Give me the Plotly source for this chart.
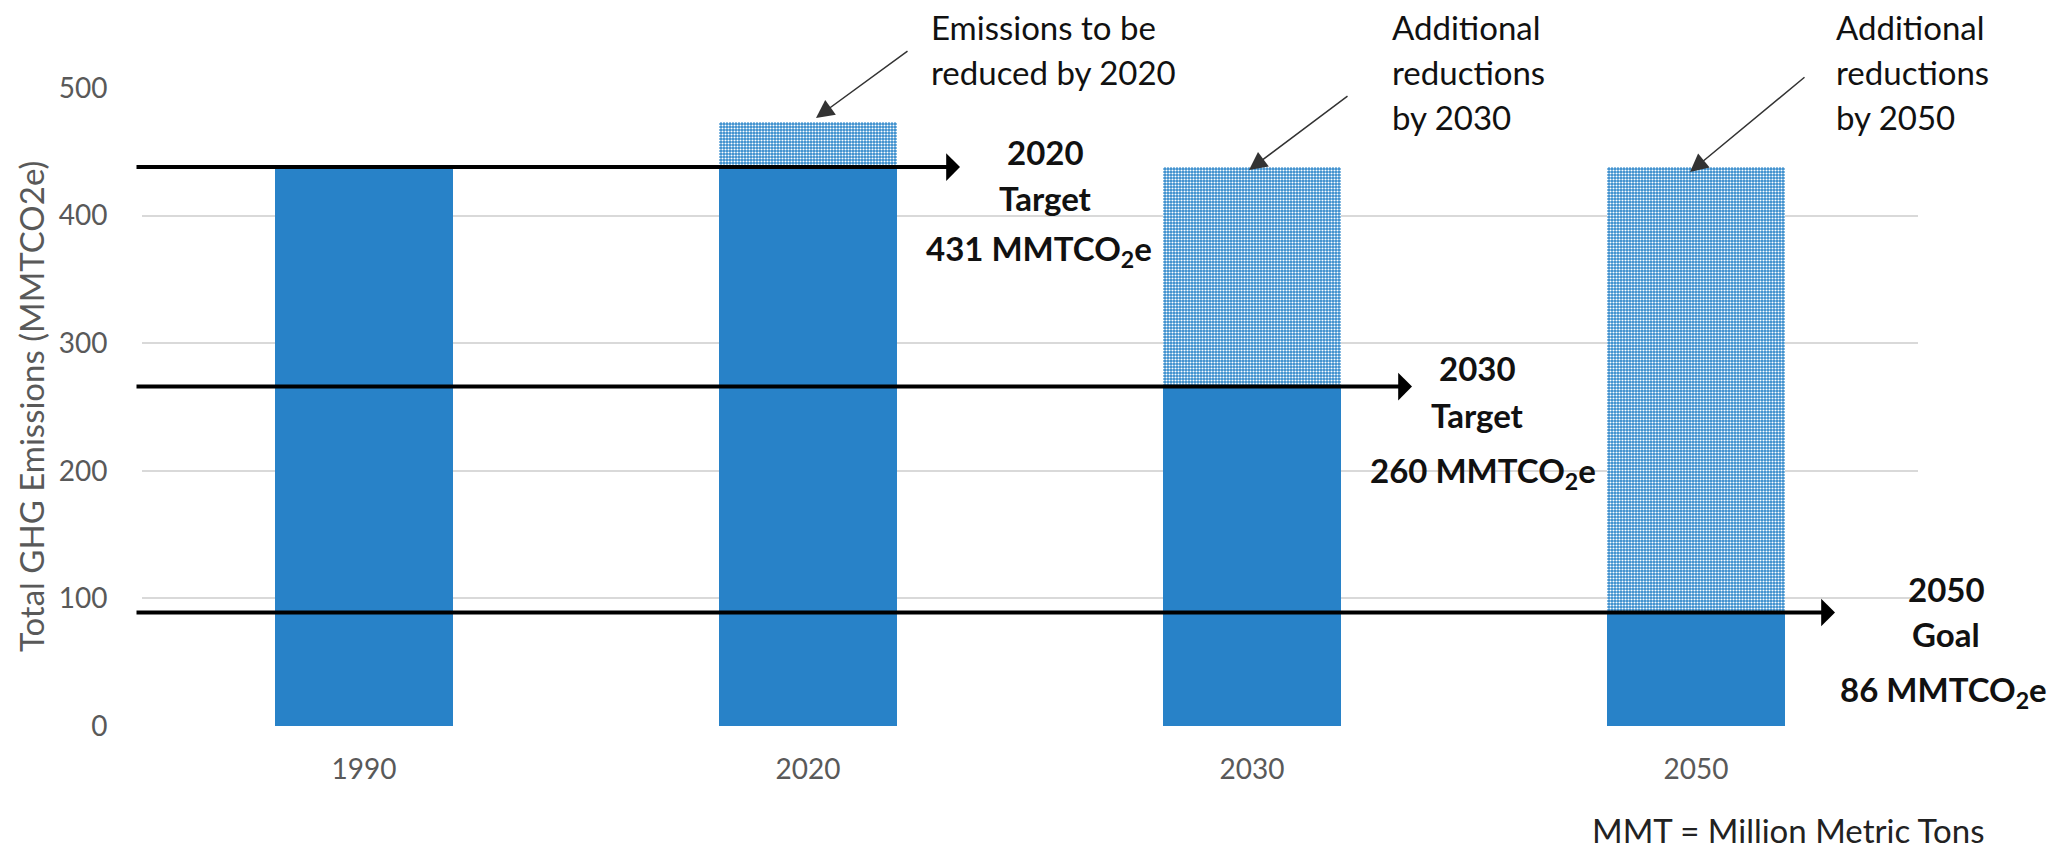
import plotly.graph_objects as go

# ---- data ----
years = ["1990", "2020", "2030", "2050"]
remaining = [438, 438, 266, 89]          # solid part of each bar
reductions = [0, 35, 172, 349]           # hatched part stacked on top
arrow_levels = [438, 266, 89]            # horizontal target arrows
y_ticks = [0, 100, 200, 300, 400, 500]

# ---- geometry (pixels) ----
W, H = 2064, 853
L, R, T, B = 142, 1918, 88, 726

def px(x):
    return (x - L) / (R - L)

def py(y):
    return (B - y) / (B - T)

FONT = "Lato, 'Open Sans', sans-serif"
BLUE = "#2882C8"

fig = go.Figure()
fig.add_trace(go.Bar(
    x=years, y=remaining, name="Emissions",
    marker=dict(color=BLUE, line=dict(width=0)),
    hoverinfo="skip",
))
fig.add_trace(go.Bar(
    x=years, y=reductions, name="Reductions",
    marker=dict(color=BLUE, line=dict(width=0),
                pattern=dict(shape=".", size=3, solidity=0.4,
                             fgcolor="white", bgcolor="#3088CB", fillmode="replace")),
    hoverinfo="skip",
))

# white text-box backgrounds (cover gridlines only)
boxes = [
    (909, 1221, 0, 110),
    (960, 1128, 130, 224),
    (1371, 1597, 0, 140),
    (1391, 1563, 335, 440),
    (1814, 2064, 0, 140),
    (1858, 2064, 560, 660),
]
shapes = []
for x0, x1, y0, y1 in boxes:
    shapes.append(dict(type="rect", xref="paper", yref="paper",
                       x0=px(x0), x1=px(x1), y0=py(y1), y1=py(y0),
                       fillcolor="white", line=dict(width=0), layer="between"))

ann = []
# horizontal target arrows
arrow_tips = [960, 1412, 1835]
for lvl, tip in zip(arrow_levels, arrow_tips):
    ann.append(dict(x=px(tip), y=lvl, xref="paper", yref="y",
                    ax=-(tip - 135), ay=0, axref="pixel", ayref="pixel",
                    text="", showarrow=True, arrowhead=1, arrowsize=1.15,
                    arrowwidth=4, arrowcolor="black"))
# diagonal pointer arrows
diag = [((816, 118), (909, 50)), ((1249, 170), (1349, 95)), ((1690, 172), (1806, 76))]
for (tx, ty), (sx, sy) in diag:
    ann.append(dict(x=px(tx), y=py(ty), xref="paper", yref="paper",
                    ax=sx - tx, ay=sy - ty, axref="pixel", ayref="pixel",
                    text="", showarrow=True, arrowhead=2, arrowsize=2.4,
                    arrowwidth=1.5, arrowcolor="#333333"))

def text(t, x, y, size=33, bold=False, anchor="left", color="#111111"):
    ann.append(dict(x=px(x), y=py(y), xref="paper", yref="paper",
                    text=("<b>%s</b>" % t) if bold else t, showarrow=False,
                    xanchor=anchor, yanchor="middle",
                    font=dict(family=FONT, size=size, color=color)))

text("Emissions to be", 929, 27)
text("reduced by 2020", 929, 72)
text("Additional", 1390, 27)
text("reductions", 1390, 72)
text("by 2030", 1390, 117)
text("Additional", 1834, 27)
text("reductions", 1834, 72)
text("by 2050", 1834, 117)

text("2020", 1045, 152, bold=True, anchor="center")
text("Target", 1045, 198, bold=True, anchor="center")
text("431 MMTCO<sub>2</sub>e", 1039, 250, bold=True, anchor="center")
text("2030", 1477, 368, bold=True, anchor="center")
text("Target", 1477, 415, bold=True, anchor="center")
text("260 MMTCO<sub>2</sub>e", 1483, 472, bold=True, anchor="center")
text("2050", 1946, 589, bold=True, anchor="center")
text("Goal", 1946, 634, bold=True, anchor="center")
text("86 MMTCO<sub>2</sub>e", 1944, 691, bold=True, anchor="center")

text("MMT = Million Metric Tons", 1788, 830, size=33, anchor="center", color="#222222")

# y-axis title
ann.append(dict(x=px(31), y=py(407), xref="paper", yref="paper",
                text="Total GHG Emissions (MMTCO2e)", textangle=-90,
                showarrow=False, xanchor="center", yanchor="middle",
                font=dict(family=FONT, size=33, color="#595959")))

fig.update_layout(
    width=W, height=H,
    margin=dict(l=L, r=W - R, t=T, b=H - B),
    barmode="stack", bargap=0.6,
    showlegend=False,
    plot_bgcolor="white", paper_bgcolor="white",
    shapes=shapes, annotations=ann,
    font=dict(family=FONT),
)
fig.update_xaxes(
    type="category", showgrid=False, zeroline=False, showline=False,
    ticks="outside", ticklen=18, tickcolor="rgba(0,0,0,0)",
    tickfont=dict(family=FONT, size=28, color="#595959"),
)
fig.update_yaxes(
    range=[0, 500], tickvals=y_ticks,
    showgrid=True, gridcolor="#d9d9d9", gridwidth=1.5,
    zeroline=False, showline=False,
    ticks="outside", ticklen=28, tickcolor="rgba(0,0,0,0)",
    tickfont=dict(family=FONT, size=28, color="#595959"),
)

fig.write_html(
    "out.html",
    config={"displayModeBar": False},
    post_script="document.body.style.margin='0px';document.body.style.overflow='hidden';",
)
